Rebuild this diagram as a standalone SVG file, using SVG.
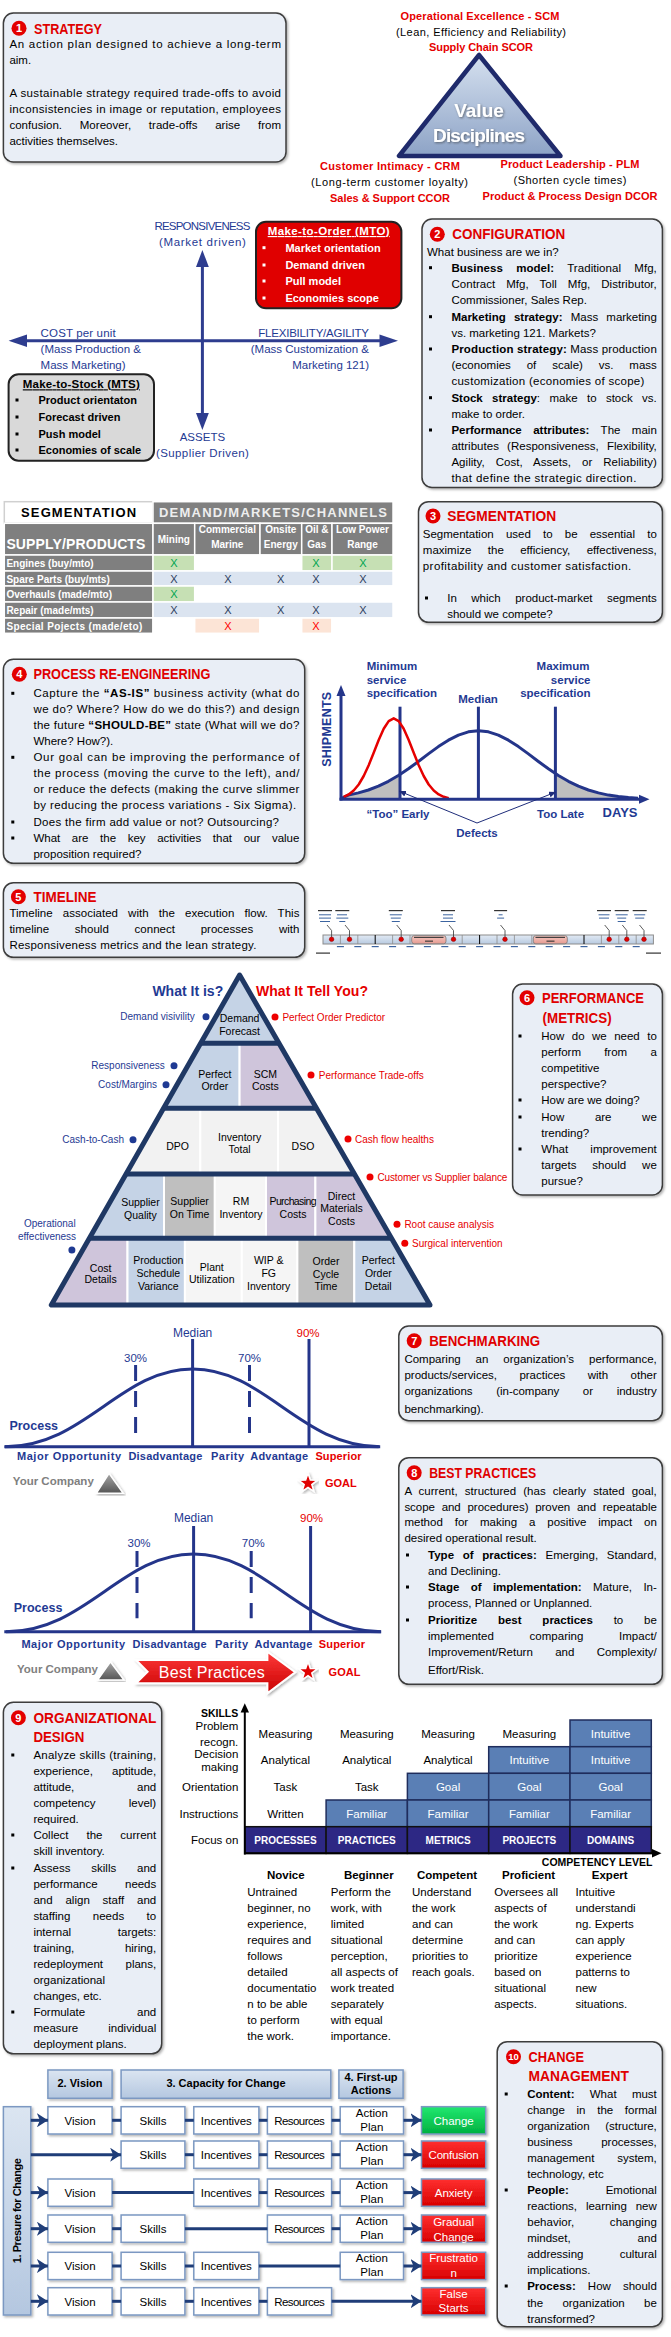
<svg xmlns="http://www.w3.org/2000/svg" width="671" height="2337" viewBox="0 0 671 2337">
<defs>
<style>
text{font-family:'Liberation Sans',Arial,sans-serif;font-size:11.5px;fill:#000}
.ti{font-size:14.5px;font-weight:bold;fill:#e00000}
.n{font-size:11px;font-weight:bold;fill:#fff;text-anchor:middle}
.c{text-anchor:middle}
.e{text-anchor:end}
.bd{font-weight:bold}
.rd{fill:#e60000}
.nv{fill:#1f3a93}
.wh{fill:#fff}
.gy{fill:#808080}
.lg{fill:#eeeeee}
.s10{font-size:10px}
.s105{font-size:10.5px}
.s11{font-size:11px}
.s12{font-size:12px}
.s125{font-size:12.5px}
.s13{font-size:13px}
.s14{font-size:14px}
.s16{font-size:16px}
.s19{font-size:19px}
.box{fill:#e9eef6;stroke:#3c3c3c;stroke-width:1.5}
.cr{fill:#e30000}
.sq{fill:#000}
.ax{stroke:#2e3d8f;stroke-width:3;fill:none}
.axf{fill:#2e3d8f}
.cv{stroke:#24358a;stroke-width:3;fill:none}
.fb{fill:#fff;stroke:#7b98c2;stroke-width:1.5}
.hb{fill:url(#hb);stroke:#7b98c2;stroke-width:1.5}
.rb{fill:url(#rg);stroke:#7b98c2;stroke-width:1.5}
.fl{stroke:#1f3d78;stroke-width:3;fill:none}
.gb{fill:#5a7fb5;stroke:#1f2d5c;stroke-width:1.5}
.gn{fill:#2d2884;stroke:#111;stroke-width:1.5}
.tl{fill:#3c64a0}
.td{fill:#333}
</style>
<filter id="sh" x="-5%" y="-5%" width="112%" height="115%"><feDropShadow dx="1.5" dy="1.5" stdDeviation="1" flood-color="#000" flood-opacity="0.3"/></filter>
<filter id="tsh" x="-10%" y="-20%" width="120%" height="150%"><feDropShadow dx="1" dy="1" stdDeviation="0.8" flood-color="#333" flood-opacity="0.6"/></filter>
<linearGradient id="vd" x1="0" y1="0" x2="0" y2="1"><stop offset="0" stop-color="#d5e0ef"/><stop offset="1" stop-color="#8da3c6"/></linearGradient>
<linearGradient id="hb" x1="0" y1="0" x2="0" y2="1"><stop offset="0" stop-color="#dbe5f1"/><stop offset="1" stop-color="#b4c7e0"/></linearGradient>
<linearGradient id="rg" x1="0" y1="0" x2="0" y2="1"><stop offset="0" stop-color="#ff3030"/><stop offset="1" stop-color="#d80000"/></linearGradient>
<linearGradient id="gg" x1="0" y1="0" x2="0" y2="1"><stop offset="0" stop-color="#20e870"/><stop offset="1" stop-color="#00b040"/></linearGradient>
<linearGradient id="ar" x1="0" y1="0" x2="0" y2="1"><stop offset="0" stop-color="#ff3b3b"/><stop offset="1" stop-color="#c80000"/></linearGradient>
<linearGradient id="gt" x1="0" y1="0" x2="0" y2="1"><stop offset="0" stop-color="#a8a8a8"/><stop offset="1" stop-color="#555"/></linearGradient>
<linearGradient id="tb" x1="0" y1="0" x2="0" y2="1"><stop offset="0" stop-color="#e2eaf4"/><stop offset="1" stop-color="#b8cae0"/></linearGradient>
<linearGradient id="pk" x1="0" y1="0" x2="0" y2="1"><stop offset="0" stop-color="#f7c9c2"/><stop offset="1" stop-color="#e59a90"/></linearGradient>
<clipPath id="pyr"><polygon points="239.6,975 51.3,1305 430,1305"/></clipPath>
<path id="star" d="M0,-10 L2.35,-3.24 L9.51,-3.09 L3.8,1.24 L5.88,8.09 L0,4 L-5.88,8.09 L-3.8,1.24 L-9.51,-3.09 L-2.35,-3.24 Z" fill="#e00000" stroke="#fff" stroke-width="1.5"/>
<marker id="fa" markerUnits="userSpaceOnUse" markerWidth="11" markerHeight="14" refX="11" refY="7" orient="auto"><path d="M0,0 L11,7 L0,14 L3,7 Z" fill="#1f3d78"/></marker>
<marker id="sa" markerUnits="userSpaceOnUse" markerWidth="7" markerHeight="6" refX="7" refY="3" orient="auto"><path d="M0,0 L7,3 L0,6 Z" fill="#1f2d7a"/></marker>
</defs>
<rect width="671" height="2337" fill="#fff"/>

<!-- 1 STRATEGY -->
<g id="strategy">
<rect class="box" x="3.4" y="13" width="282.6" height="149" rx="10" filter="url(#sh)"/>
<circle class="cr" cx="19" cy="28.3" r="7.5"/><text class="n" x="19" y="32.3">1</text>
<text class="ti" x="34" y="33.5" textLength="68" lengthAdjust="spacingAndGlyphs">STRATEGY</text>
<text x="9.4" y="48" textLength="271.6">An action plan designed to achieve a long-term</text>
<text x="9.4" y="64">aim.</text>
<text x="9.4" y="97" textLength="271.6">A sustainable strategy required trade-offs to avoid</text>
<text x="9.4" y="113" textLength="271.6">inconsistencies in image or reputation, employees</text>
<text x="9.4" y="129" textLength="271.6" word-spacing="14.5">confusion. Moreover, trade-offs arise from</text>
<text x="9.4" y="145">activities themselves.</text>
</g>

<g id="value-disciplines">
<polygon points="479,55 399,156 560.5,156" fill="url(#vd)" stroke="#1f2a6b" stroke-width="4.5" stroke-linejoin="round"/>
<text class="c bd wh s19" x="479" y="117" filter="url(#tsh)">Value</text>
<text class="c bd wh s19" x="479" y="142" textLength="92" filter="url(#tsh)">Disciplines</text>
<text class="c bd rd s11" x="480" y="20" textLength="159">Operational Excellence - SCM</text>
<text class="c s11" x="481" y="36" textLength="170">(Lean, Efficiency and Reliability)</text>
<text class="c bd rd s11" x="481" y="51" textLength="104">Supply Chain SCOR</text>
<text class="c bd rd s11" x="390" y="170" textLength="140">Customer Intimacy - CRM</text>
<text class="c s11" x="389.5" y="186" textLength="157">(Long-term customer loyalty)</text>
<text class="c bd rd s11" x="390" y="202" textLength="120">Sales &amp; Support CCOR</text>
<text class="c bd rd s11" x="570" y="168" textLength="139">Product Leadership - PLM</text>
<text class="c s11" x="570" y="184" textLength="113">(Shorten cycle times)</text>
<text class="c bd rd s11" x="570" y="200" textLength="175">Product &amp; Process Design DCOR</text>
</g>

<!-- 2 axes -->
<g id="attribute-axes">
<line class="ax" x1="202.4" y1="262" x2="202.4" y2="418"/>
<polygon class="axf" points="202.4,250 196,267 208.8,267"/>
<polygon class="axf" points="202.4,430 196,413 208.8,413"/>
<line class="ax" x1="22" y1="340.7" x2="385" y2="340.7"/>
<polygon class="axf" points="8.6,340.7 27,334.5 27,347"/>
<polygon class="axf" points="398,340.7 379.5,334.5 379.5,347"/>
<text class="c nv" x="202.4" y="230" textLength="96">RESPONSIVENESS</text>
<text class="c nv" x="202.4" y="245.7" textLength="87">(Market driven)</text>
<text class="nv" x="40.6" y="336.7" textLength="75">COST per unit</text>
<text class="nv" x="40.6" y="352.7">(Mass Production &amp;</text>
<text class="nv" x="40.6" y="368.7">Mass Marketing)</text>
<text class="e nv" x="369" y="336.7" textLength="110.8">FLEXIBILITY/AGILITY</text>
<text class="e nv" x="369" y="352.7">(Mass Customization &amp;</text>
<text class="e nv" x="369" y="368.7">Marketing 121)</text>
<text class="c nv" x="202.4" y="441">ASSETS</text>
<text class="c nv" x="202.4" y="456.7" textLength="93">(Supplier Driven)</text>
</g>

<g id="mto">
<rect x="256" y="221.7" width="145.4" height="86.6" rx="10" fill="#e00000" stroke="#222" stroke-width="2"/>
<text class="c bd wh" x="328.7" y="235" text-decoration="underline" textLength="122">Make-to-Order (MTO)</text>
<rect class="wh" x="262.5" y="246.2" width="3" height="3"/><text class="bd wh s11" x="285.4" y="251.7">Market orientation</text>
<rect class="wh" x="262.5" y="263.5" width="3" height="3"/><text class="bd wh s11" x="285.4" y="269">Demand driven</text>
<rect class="wh" x="262.5" y="279.5" width="3" height="3"/><text class="bd wh s11" x="285.4" y="285">Pull model</text>
<rect class="wh" x="262.5" y="296.5" width="3" height="3"/><text class="bd wh s11" x="285.4" y="302">Economies scope</text>
</g>

<g id="mts">
<rect x="8.6" y="374.3" width="145.4" height="86.4" rx="10" fill="#d9d9d9" stroke="#222" stroke-width="2"/>
<text class="c bd" x="81.3" y="388.3" text-decoration="underline" textLength="117">Make-to-Stock (MTS)</text>
<rect class="sq" x="15.5" y="398.5" width="3" height="3"/><text class="bd s11" x="38.5" y="404">Product orientaton</text>
<rect class="sq" x="15.5" y="415.5" width="3" height="3"/><text class="bd s11" x="38.5" y="421">Forecast driven</text>
<rect class="sq" x="15.5" y="432.5" width="3" height="3"/><text class="bd s11" x="38.5" y="438">Push model</text>
<rect class="sq" x="15.5" y="448.5" width="3" height="3"/><text class="bd s11" x="38.5" y="454">Economies of scale</text>
</g>

<g id="configuration">
<rect class="box" x="422" y="219" width="240.4" height="268.5" rx="10" filter="url(#sh)"/>
<circle class="cr" cx="437.3" cy="234.3" r="7.5"/><text class="n" x="437.3" y="238.3">2</text>
<text class="ti" x="452.3" y="239" textLength="113" lengthAdjust="spacingAndGlyphs">CONFIGURATION</text>
<text x="427" y="255.7">What business are we in?</text>
<rect class="sq" x="429" y="266.2" width="3" height="3"/>
<text x="451.4" y="271.7" textLength="205.4" word-spacing="10"><tspan class="bd">Business model:</tspan> Traditional Mfg,</text>
<text x="451.4" y="287.7" textLength="205.4" word-spacing="7.6">Contract Mfg, Toll Mfg, Distributor,</text>
<text x="451.4" y="303.7">Commissioner, Sales Rep.</text>
<rect class="sq" x="429" y="315.2" width="3" height="3"/>
<text x="451.4" y="320.7" textLength="205.4" word-spacing="5"><tspan class="bd">Marketing strategy:</tspan> Mass marketing</text>
<text x="451.4" y="336.7">vs. marketing 121. Markets?</text>
<rect class="sq" x="429" y="347.5" width="3" height="3"/>
<text x="451.4" y="353" textLength="205.4"><tspan class="bd">Production strategy:</tspan> Mass production</text>
<text x="451.4" y="369" textLength="205.4" word-spacing="12.7">(economies of scale) vs. mass</text>
<text x="451.4" y="385" textLength="193">customization (economies of scope)</text>
<rect class="sq" x="429" y="396.2" width="3" height="3"/>
<text x="451.4" y="401.7" textLength="205.4" word-spacing="6.2"><tspan class="bd">Stock strategy</tspan>: make to stock vs.</text>
<text x="451.4" y="418">make to order.</text>
<rect class="sq" x="429" y="428.5" width="3" height="3"/>
<text x="451.4" y="434" textLength="205.4" word-spacing="8.2"><tspan class="bd">Performance attributes:</tspan> The main</text>
<text x="451.4" y="450" textLength="205.4" word-spacing="4.9">attributes (Responsiveness, Flexibility,</text>
<text x="451.4" y="466" textLength="205.4" word-spacing="7.7">Agility, Cost, Assets, or Reliability)</text>
<text x="451.4" y="482" textLength="185">that define the strategic direction.</text>
</g>

<!-- 3 segmentation table -->
<g id="segmentation-table" stroke="#fff" stroke-width="1.5">
<rect x="4.3" y="501.7" width="148.7" height="21.6" fill="#fff" stroke="#d0d0d0"/>
<rect x="153" y="501.7" width="240" height="21.6" fill="#808080"/>
<rect x="4.3" y="523.3" width="148.7" height="31.7" fill="#7f7f7f"/>
<rect x="153" y="523.3" width="41.7" height="31.7" fill="#7f7f7f"/>
<rect x="194.7" y="523.3" width="65.3" height="31.7" fill="#7f7f7f"/>
<rect x="260" y="523.3" width="41.7" height="31.7" fill="#7f7f7f"/>
<rect x="301.7" y="523.3" width="30.3" height="31.7" fill="#7f7f7f"/>
<rect x="332" y="523.3" width="61" height="31.7" fill="#7f7f7f"/>
<rect x="4.3" y="555" width="148.7" height="16" fill="#7f7f7f"/>
<rect x="4.3" y="571" width="148.7" height="15" fill="#7f7f7f"/>
<rect x="4.3" y="586" width="148.7" height="16" fill="#7f7f7f"/>
<rect x="4.3" y="602" width="148.7" height="16" fill="#7f7f7f"/>
<rect x="4.3" y="618" width="148.7" height="15.3" fill="#7f7f7f"/>
<rect x="153" y="555" width="41.7" height="16" fill="#c6e0b4"/>
<rect x="194.7" y="555" width="65.3" height="16" fill="#fff"/>
<rect x="260" y="555" width="41.7" height="16" fill="#fff"/>
<rect x="301.7" y="555" width="30.3" height="16" fill="#c6e0b4"/>
<rect x="332" y="555" width="61" height="16" fill="#c6e0b4"/>
<rect x="153" y="571" width="240" height="15" fill="#dbe4f0"/>
<rect x="153" y="586" width="41.7" height="16" fill="#c6e0b4"/>
<rect x="194.7" y="586" width="198.3" height="16" fill="#fff"/>
<rect x="153" y="602" width="240" height="16" fill="#dbe4f0"/>
<rect x="153" y="618" width="41.7" height="15.3" fill="#fff"/>
<rect x="194.7" y="618" width="65.3" height="15.3" fill="#fce4d6"/>
<rect x="260" y="618" width="41.7" height="15.3" fill="#fff"/>
<rect x="301.7" y="618" width="30.3" height="15.3" fill="#fce4d6"/>
<rect x="332" y="618" width="61" height="15.3" fill="#fff"/>
<g stroke="none">
<text class="c bd s13" x="78.6" y="517.3" textLength="115">SEGMENTATION</text>
<text class="c bd s13 lg" x="273" y="517.3" textLength="228">DEMAND/MARKETS/CHANNELS</text>
<text class="bd s14 wh" x="6.4" y="549" textLength="139">SUPPLY/PRODUCTS</text>
<text class="c bd s10 wh" x="173.8" y="542.7">Mining</text>
<text class="c bd s10 wh" x="227.3" y="532.7">Commercial</text>
<text class="c bd s10 wh" x="227.3" y="548.3">Marine</text>
<text class="c bd s10 wh" x="280.8" y="532.7">Onsite</text>
<text class="c bd s10 wh" x="280.8" y="548.3">Energy</text>
<text class="c bd s10 wh" x="316.8" y="532.7">Oil &amp;</text>
<text class="c bd s10 wh" x="316.8" y="548.3">Gas</text>
<text class="c bd s10 wh" x="362.5" y="532.7">Low Power</text>
<text class="c bd s10 wh" x="362.5" y="548.3">Range</text>
<text class="bd s10 wh" x="6.4" y="567">Engines (buy/mto)</text>
<text class="bd s10 wh" x="6.4" y="582.5">Spare Parts (buy/mts)</text>
<text class="bd s10 wh" x="6.4" y="598">Overhauls (made/mto)</text>
<text class="bd s10 wh" x="6.4" y="614">Repair (made/mts)</text>
<text class="bd s10 wh" x="6.4" y="629.5" textLength="136">Special Pojects (made/eto)</text>
<text class="c s11" x="174" y="567" style="fill:#00a550">X</text>
<text class="c s11" x="315.8" y="567" style="fill:#00a550">X</text>
<text class="c s11" x="362.9" y="567" style="fill:#00a550">X</text>
<text class="c s11" x="174" y="582.5" style="fill:#2f3f5f">X</text>
<text class="c s11" x="228" y="582.5" style="fill:#2f3f5f">X</text>
<text class="c s11" x="280.7" y="582.5" style="fill:#2f3f5f">X</text>
<text class="c s11" x="315.8" y="582.5" style="fill:#2f3f5f">X</text>
<text class="c s11" x="362.9" y="582.5" style="fill:#2f3f5f">X</text>
<text class="c s11" x="174" y="598" style="fill:#00a550">X</text>
<text class="c s11" x="174" y="614" style="fill:#2f3f5f">X</text>
<text class="c s11" x="228" y="614" style="fill:#2f3f5f">X</text>
<text class="c s11" x="280.7" y="614" style="fill:#2f3f5f">X</text>
<text class="c s11" x="315.8" y="614" style="fill:#2f3f5f">X</text>
<text class="c s11" x="362.9" y="614" style="fill:#2f3f5f">X</text>
<text class="c s11" x="228" y="629.5" style="fill:#ff0000">X</text>
<text class="c s11" x="315.8" y="629.5" style="fill:#ff0000">X</text>
</g>
</g>

<g id="segmentation">
<rect class="box" x="418.5" y="501.7" width="243.9" height="120.6" rx="10" filter="url(#sh)"/>
<circle class="cr" cx="433" cy="516" r="7.5"/><text class="n" x="433" y="520">3</text>
<text class="ti" x="447.2" y="520.7" textLength="109" lengthAdjust="spacingAndGlyphs">SEGMENTATION</text>
<text x="422.8" y="538" textLength="234" word-spacing="9">Segmentation used to be essential to</text>
<text x="422.8" y="554" textLength="234" word-spacing="13.2">maximize the efficiency, effectiveness,</text>
<text x="422.8" y="570" textLength="208.4">profitability and customer satisfaction.</text>
<rect class="sq" x="425" y="596.5" width="3" height="3"/>
<text x="447.2" y="602" textLength="209.6" word-spacing="11.3">In which product-market segments</text>
<text x="447.2" y="618">should we compete?</text>
</g>

<!-- 4 PROCESS RE-ENGINEERING -->
<g id="process-reengineering">
<rect class="box" x="3.4" y="659.3" width="301.3" height="204" rx="10" filter="url(#sh)"/>
<circle class="cr" cx="19.3" cy="674.3" r="7.5"/><text class="n" x="19.3" y="678.3">4</text>
<text class="ti" x="33.4" y="679.3" textLength="177" lengthAdjust="spacingAndGlyphs">PROCESS RE-ENGINEERING</text>
<rect class="sq" x="11.3" y="691.8" width="3" height="3"/>
<text x="33.4" y="697.3" textLength="266">Capture the <tspan class="bd">“AS-IS”</tspan> business activity (what do</text>
<text x="33.4" y="713.3" textLength="266">we do? Where? How do we do this?) and design</text>
<text x="33.4" y="729.3" textLength="266">the future <tspan class="bd">“SHOULD-BE”</tspan> state (What will we do?</text>
<text x="33.4" y="745.3">Where? How?).</text>
<rect class="sq" x="11.3" y="755.8" width="3" height="3"/>
<text x="33.4" y="761.3" textLength="266">Our goal can be improving the performance of</text>
<text x="33.4" y="777.3" textLength="266">the process (moving the curve to the left), and/</text>
<text x="33.4" y="793.3" textLength="266">or reduce the defects (making the curve slimmer</text>
<text x="33.4" y="809.3" textLength="262.7">by reducing the process variations - Six Sigma).</text>
<rect class="sq" x="11.3" y="820.5" width="3" height="3"/>
<text x="33.4" y="826" textLength="245.6">Does the firm add value or not? Outsourcing?</text>
<rect class="sq" x="11.3" y="836.5" width="3" height="3"/>
<text x="33.4" y="842" textLength="266" word-spacing="8.4">What are the key activities that our value</text>
<text x="33.4" y="858">proposition required?</text>
</g>

<g id="shipments-chart">
<polygon fill="#bfbfbf" points="341,799.3 341,798.5 348.4,795.1 358.4,792.9 368.4,790 378.4,786.2 388.4,781.3 398.4,775.5 400,774.5 400,799.3"/>
<polygon fill="#bfbfbf" points="555.4,799.3 555.4,773.6 558.4,775.5 568.4,781.3 578.4,786.2 588.4,790 598.4,792.9 608.4,795.1 618.4,796.6 628.4,797.6 638,798.3 638,799.3"/>
<line x1="400" y1="706.7" x2="400" y2="799" stroke="#24358a" stroke-width="3"/>
<line x1="478.4" y1="706.7" x2="478.4" y2="799" stroke="#24358a" stroke-width="3"/>
<line x1="555.4" y1="706.7" x2="555.4" y2="799" stroke="#24358a" stroke-width="3"/>
<polyline class="cv" stroke-linejoin="round" points="341,798.5 348.4,795.1 358.4,792.9 368.4,790 378.4,786.2 388.4,781.3 398.4,775.5 408.4,768.8 418.4,761.5 428.4,753.9 438.4,746.6 448.4,740.2 458.4,735.1 468.4,731.8 478.4,730.7 488.4,731.8 498.4,735.1 508.4,740.2 518.4,746.6 528.4,753.9 538.4,761.5 548.4,768.8 558.4,775.5 568.4,781.3 578.4,786.2 588.4,790 598.4,792.9 608.4,795.1 618.4,796.6 628.4,797.6 638,798.3"/>
<polyline fill="none" stroke="#e60000" stroke-width="2.5" stroke-linejoin="round" points="343.7,796.8 348.7,794.4 353.7,790.5 358.7,784.5 363.7,776 368.7,765.2 373.7,752.8 378.7,740 383.7,728.8 388.7,721.1 393.7,718.3 398.7,721.1 403.7,728.8 408.7,740 413.7,752.8 418.7,765.2 423.7,776 428.7,784.5 433.7,790.5 438.7,794.4 443.7,796.8 448.7,798.1"/>
<line x1="341" y1="800.5" x2="341" y2="692" stroke="#24358a" stroke-width="3"/>
<polygon fill="#24358a" points="341,685 336.5,696 345.5,696"/>
<line x1="339.5" y1="799.3" x2="640" y2="799.3" stroke="#24358a" stroke-width="3"/>
<polygon fill="#24358a" points="649.5,799.3 639,794.8 639,803.8"/>
<text class="c bd nv s125" transform="translate(331,729.3) rotate(-90)" textLength="75">SHIPMENTS</text>
<text class="bd nv s13" x="602.5" y="816.7" textLength="35">DAYS</text>
<text class="bd nv" x="366.7" y="670">Minimum</text>
<text class="bd nv" x="366.7" y="684.3">service</text>
<text class="bd nv" x="366.7" y="696.7">specification</text>
<text class="e bd nv" x="589.6" y="670">Maximum</text>
<text class="e bd nv" x="590.5" y="684.3">service</text>
<text class="e bd nv" x="590.5" y="696.7">specification</text>
<text class="c bd nv" x="478" y="703.3">Median</text>
<text class="c bd nv" x="398" y="818.3">“Too” Early</text>
<text class="c bd nv" x="560.5" y="818.3">Too Late</text>
<text class="c bd nv" x="477" y="836.7">Defects</text>
</g>

<!-- 5 TIMELINE -->
<g id="timeline">
<rect class="box" x="3.4" y="882.7" width="301.3" height="74.6" rx="10" filter="url(#sh)"/>
<circle class="cr" cx="18.4" cy="896.7" r="7.5"/><text class="n" x="18.4" y="900.7">5</text>
<text class="ti" x="33.4" y="901.7" textLength="63" lengthAdjust="spacingAndGlyphs">TIMELINE</text>
<text x="9.4" y="917.3" textLength="290" word-spacing="6.9">Timeline associated with the execution flow. This</text>
<text x="9.4" y="933.3" textLength="290" word-spacing="22.6">timeline should connect processes with</text>
<text x="9.4" y="949.3" textLength="247">Responsiveness metrics and the lean strategy.</text>
</g>

<g id="timeline-graphic">
<rect x="323" y="935" width="330.4" height="9" fill="url(#tb)" stroke="#8c8c8c" stroke-width="1"/>
<g stroke="#8c8c8c" stroke-width="0.8">
<line x1="340.4" y1="935" x2="340.4" y2="944"/><line x1="357.8" y1="935" x2="357.8" y2="944"/>
<line x1="392.6" y1="935" x2="392.6" y2="944"/><line x1="410" y1="935" x2="410" y2="944"/>
<line x1="462.2" y1="935" x2="462.2" y2="944"/><line x1="497" y1="935" x2="497" y2="944"/>
<line x1="514.4" y1="935" x2="514.4" y2="944"/><line x1="531.8" y1="935" x2="531.8" y2="944"/>
<line x1="601.4" y1="935" x2="601.4" y2="944"/><line x1="618.8" y1="935" x2="618.8" y2="944"/>
<line x1="636.2" y1="935" x2="636.2" y2="944"/>
</g>
<g stroke="#000" stroke-width="1">
<line x1="375.2" y1="935" x2="375.2" y2="944"/><line x1="479.6" y1="935" x2="479.6" y2="944"/><line x1="584" y1="935" x2="584" y2="944"/>
</g>
<rect x="411.7" y="935.6" width="34.3" height="8.2" rx="2.5" fill="url(#pk)" stroke="#777" stroke-width="0.8"/>
<rect x="533.3" y="935.6" width="34" height="8.2" rx="2.5" fill="url(#pk)" stroke="#777" stroke-width="0.8"/>
<rect class="td" x="414" y="936.8" width="29.5" height="1.1"/><rect class="td" x="425" y="940.6" width="8" height="1.1"/>
<rect class="td" x="535.5" y="936.8" width="29.5" height="1.1"/><rect class="td" x="546.5" y="940.6" width="8" height="1.1"/>
<g fill="none" stroke="#333" stroke-width="0.8">
<polyline points="327,925 331.6,930.5 331.6,937"/>
<polyline points="345,925 349.5,930.5 349.5,937"/>
<polyline points="396.7,925 401.2,930.5 401.2,937"/>
<polyline points="449,925 453.5,930.5 453.5,937"/>
<polyline points="500.5,925 505,930.5 505,937"/>
<polyline points="604.7,925 609.2,930.5 609.2,937"/>
<polyline points="622.3,925 626.8,930.5 626.8,937"/>
<polyline points="639.5,925 644,930.5 644,937"/>
</g>
<g fill="#e00000" stroke="#800" stroke-width="0.5">
<circle cx="331.6" cy="939.3" r="2.3"/><circle cx="349.5" cy="939.3" r="2.3"/><circle cx="401.2" cy="939.3" r="2.3"/><circle cx="453.5" cy="939.3" r="2.3"/>
<circle cx="505" cy="939.3" r="2.3"/><circle cx="609.2" cy="939.3" r="2.3"/><circle cx="626.8" cy="939.3" r="2.3"/><circle cx="644" cy="939.3" r="2.3"/>
</g>
<g>
<rect class="td" x="318" y="910" width="14" height="1.2"/><rect class="tl" x="319" y="914.3" width="12" height="1"/><rect class="tl" x="319" y="917.6" width="12" height="1"/><rect class="tl" x="320" y="921" width="10" height="1"/>
<rect class="td" x="335.3" y="910" width="14" height="1.2"/><rect class="tl" x="337" y="914.3" width="10" height="1"/><rect class="tl" x="336.3" y="917.6" width="12" height="1"/><rect class="tl" x="339.3" y="921" width="6" height="1"/>
<rect class="td" x="388.8" y="910" width="14" height="1.2"/><rect class="tl" x="389.8" y="914.3" width="12" height="1"/><rect class="tl" x="390.8" y="917.6" width="10" height="1"/><rect class="tl" x="391.8" y="921" width="8" height="1"/>
<rect class="td" x="441" y="910" width="14" height="1.2"/><rect class="tl" x="443" y="914.3" width="10" height="1"/><rect class="tl" x="443" y="917.6" width="10" height="1"/><rect class="tl" x="440.5" y="921" width="15" height="1"/>
<rect class="td" x="494.1" y="910" width="13" height="1.2"/><rect class="tl" x="498.6" y="914.3" width="4" height="1"/><rect class="tl" x="497.1" y="917.6" width="7" height="1"/>
<rect class="td" x="597" y="910" width="14" height="1.2"/><rect class="tl" x="598.5" y="914.3" width="11" height="1"/><rect class="tl" x="599" y="917.6" width="10" height="1"/>
<rect class="td" x="614.7" y="910" width="14" height="1.2"/><rect class="tl" x="615.7" y="914.3" width="12" height="1"/><rect class="tl" x="617.2" y="917.6" width="9" height="1"/><rect class="tl" x="617.7" y="921" width="8" height="1"/>
<rect class="td" x="632.7" y="910" width="14" height="1.2"/><rect class="tl" x="634.2" y="914.3" width="11" height="1"/><rect class="tl" x="635.2" y="917.6" width="9" height="1"/>
</g>
<g class="tl">
<rect x="336.9" y="946" width="7" height="1.2"/><rect x="354.3" y="946" width="7" height="1.2"/><rect x="371.7" y="946" width="7" height="1.2"/><rect x="389.1" y="946" width="7" height="1.2"/><rect x="406.5" y="946" width="7" height="1.2"/><rect x="423.9" y="946" width="7" height="1.2"/><rect x="441.3" y="946" width="7" height="1.2"/><rect x="458.7" y="946" width="7" height="1.2"/><rect x="476.1" y="946" width="7" height="1.2"/>
<rect x="493.5" y="946" width="7" height="1.2"/><rect x="510.9" y="946" width="7" height="1.2"/><rect x="528.3" y="946" width="7" height="1.2"/><rect x="545.7" y="946" width="7" height="1.2"/><rect x="563.1" y="946" width="7" height="1.2"/><rect x="580.5" y="946" width="7" height="1.2"/><rect x="597.9" y="946" width="7" height="1.2"/><rect x="615.3" y="946" width="7" height="1.2"/><rect x="632.7" y="946" width="7" height="1.2"/>
</g>
<rect class="td" x="316" y="952.5" width="14" height="1.2"/><rect class="td" x="646" y="952.5" width="15" height="1.2"/>
</g>

<!-- 6 PERFORMANCE pyramid -->
<g id="pyramid">
<g clip-path="url(#pyr)" stroke="#fff" stroke-width="2">
<rect x="150" y="975" width="180" height="68.3" fill="#c5d3e6"/>
<rect x="150" y="1043.3" width="89.6" height="65" fill="#c5d3e6"/>
<rect x="239.6" y="1043.3" width="90" height="65" fill="#cfc5db"/>
<rect x="100" y="1108.3" width="100.3" height="65.7" fill="#f2f2f2"/>
<rect x="200.3" y="1108.3" width="77.7" height="65.7" fill="#f2f2f2"/>
<rect x="278" y="1108.3" width="102" height="65.7" fill="#f2f2f2"/>
<rect x="80" y="1174" width="84" height="64.3" fill="#c5d3e6"/>
<rect x="164" y="1174" width="50.8" height="64.3" fill="#bfbfbf"/>
<rect x="214.8" y="1174" width="51.2" height="64.3" fill="#f5f5f5"/>
<rect x="266" y="1174" width="49.4" height="64.3" fill="#cfc5db"/>
<rect x="315.4" y="1174" width="104.6" height="64.3" fill="#cfc5db"/>
<rect x="40" y="1238.3" width="87.5" height="66.7" fill="#cfc5db"/>
<rect x="127.5" y="1238.3" width="57.4" height="66.7" fill="#c5d3e6"/>
<rect x="184.9" y="1238.3" width="56.9" height="66.7" fill="#f5f5f5"/>
<rect x="241.8" y="1238.3" width="55.6" height="66.7" fill="#f5f5f5"/>
<rect x="297.4" y="1238.3" width="56.9" height="66.7" fill="#bfbfbf"/>
<rect x="354.3" y="1238.3" width="85.7" height="66.7" fill="#c5d3e6"/>
<g stroke="#1f3864" stroke-width="5">
<line x1="40" y1="1043.3" x2="440" y2="1043.3"/>
<line x1="40" y1="1108.3" x2="440" y2="1108.3"/>
<line x1="40" y1="1174" x2="440" y2="1174"/>
<line x1="40" y1="1238.3" x2="440" y2="1238.3"/>
</g>
</g>
<polygon points="239.6,975 51.3,1305 430,1305" fill="none" stroke="#1f3864" stroke-width="5" stroke-linejoin="round"/>
<text class="c s105" x="239.6" y="1021.7">Demand</text><text class="c s105" x="239.6" y="1035">Forecast</text>
<text class="c s105" x="214.8" y="1077.7">Perfect</text><text class="c s105" x="214.8" y="1090">Order</text>
<text class="c s105" x="265.3" y="1077.7">SCM</text><text class="c s105" x="265.3" y="1090">Costs</text>
<text class="c s105" x="177.6" y="1150">DPO</text>
<text class="c s105" x="239.6" y="1141">Inventory</text><text class="c s105" x="239.6" y="1152.7">Total</text>
<text class="c s105" x="303" y="1150">DSO</text>
<text class="c s105" x="140.4" y="1206">Supplier</text><text class="c s105" x="140.4" y="1219.3">Quality</text>
<text class="c s105" x="189.6" y="1205">Supplier</text><text class="c s105" x="189.6" y="1217.7">On Time</text>
<text class="c s105" x="241" y="1205">RM</text><text class="c s105" x="241" y="1217.7">Inventory</text>
<text class="c s105" x="293" y="1205" textLength="47">Purchasing</text><text class="c s105" x="293" y="1217.7">Costs</text>
<text class="c s105" x="341.5" y="1200">Direct</text><text class="c s105" x="341.5" y="1212.3">Materials</text><text class="c s105" x="341.5" y="1225">Costs</text>
<text class="c s105" x="100.6" y="1271.7">Cost</text><text class="c s105" x="100.6" y="1283.3">Details</text>
<text class="c s105" x="158.3" y="1264.3">Production</text><text class="c s105" x="158.3" y="1277.3">Schedule</text><text class="c s105" x="158.3" y="1290">Variance</text>
<text class="c s105" x="211.8" y="1270.7">Plant</text><text class="c s105" x="211.8" y="1283.3">Utilization</text>
<text class="c s105" x="268.7" y="1264.3">WIP &amp;</text><text class="c s105" x="268.7" y="1277.3">FG</text><text class="c s105" x="268.7" y="1290">Inventory</text>
<text class="c s105" x="326" y="1265">Order</text><text class="c s105" x="326" y="1278.3">Cycle</text><text class="c s105" x="326" y="1290">Time</text>
<text class="c s105" x="378.3" y="1264.3">Perfect</text><text class="c s105" x="378.3" y="1277.3">Order</text><text class="c s105" x="378.3" y="1290">Detail</text>
<text class="c bd nv s14" x="187.8" y="995.7">What It is?</text>
<text class="bd rd s14" x="256" y="995.7" textLength="112">What It Tell You?</text>
<g fill="#1f3a93">
<circle cx="206" cy="1016.7" r="3.5"/><circle cx="174" cy="1065.7" r="3.5"/><circle cx="166" cy="1084.7" r="3.5"/><circle cx="133" cy="1139.7" r="3.5"/><circle cx="71.9" cy="1250" r="3.5"/>
</g>
<text class="e nv s10" x="194.7" y="1020">Demand visivility</text>
<text class="e nv s10" x="164.7" y="1069.3">Responsiveness</text>
<text class="e nv s10" x="157" y="1088.3">Cost/Margins</text>
<text class="e nv s10" x="124" y="1143.3">Cash-to-Cash</text>
<text class="c nv s10" x="49.8" y="1227.3">Operational</text>
<text class="c nv s10" x="47" y="1240">effectiveness</text>
<g fill="#ee0000">
<circle cx="275" cy="1017" r="3.5"/><circle cx="311" cy="1075" r="3.5"/><circle cx="348" cy="1139" r="3.5"/><circle cx="370" cy="1177" r="3.5"/><circle cx="397" cy="1224.3" r="3.5"/><circle cx="404.8" cy="1243.3" r="3.5"/>
</g>
<text class="rd s10" x="282.4" y="1020.5">Perfect Order Predictor</text>
<text class="rd s10" x="318.8" y="1078.5">Performance Trade-offs</text>
<text class="rd s10" x="355" y="1142.5">Cash flow healths</text>
<text class="rd s10" x="377.4" y="1180.5" textLength="130">Customer vs Supplier balance</text>
<text class="rd s10" x="404.4" y="1228">Root cause analysis</text>
<text class="rd s10" x="412" y="1247">Surgical intervention</text>
</g>

<g id="performance">
<rect class="box" x="512.6" y="984" width="149.8" height="211" rx="10" filter="url(#sh)"/>
<circle class="cr" cx="527" cy="997.7" r="7.5"/><text class="n" x="527" y="1001.7">6</text>
<text class="ti" x="542" y="1003.3" textLength="102" lengthAdjust="spacingAndGlyphs">PERFORMANCE</text>
<text class="ti" x="542.6" y="1023.3" textLength="69" lengthAdjust="spacingAndGlyphs">(METRICS)</text>
<rect class="sq" x="518.5" y="1034.5" width="3" height="3"/>
<text x="541.3" y="1040" textLength="115.5" word-spacing="4.3">How do we need to</text>
<text x="541.3" y="1056" textLength="115.5" word-spacing="20">perform from a</text>
<text x="541.3" y="1072">competitive</text>
<text x="541.3" y="1088">perspective?</text>
<rect class="sq" x="518.5" y="1098.5" width="3" height="3"/>
<text x="541.3" y="1104">How are we doing?</text>
<rect class="sq" x="518.5" y="1115.5" width="3" height="3"/>
<text x="541.3" y="1121" textLength="115.5" word-spacing="27.4">How are we</text>
<text x="541.3" y="1137">trending?</text>
<rect class="sq" x="518.5" y="1147.5" width="3" height="3"/>
<text x="541.3" y="1153" textLength="115.5" word-spacing="19">What improvement</text>
<text x="541.3" y="1169" textLength="115.5" word-spacing="12.7">targets should we</text>
<text x="541.3" y="1185">pursue?</text>
</g>

<!-- 7 benchmarking curve -->
<g id="benchmark-curve">
<line x1="4.3" y1="1446.7" x2="378.7" y2="1446.7" class="cv"/>
<path class="cv" d="M5,1446.7 C85,1446.7 120,1369 192.6,1369 C265.2,1369 300.2,1446.7 380.2,1446.7"/>
<line x1="192.6" y1="1339" x2="192.6" y2="1446.7" class="cv"/>
<line x1="309" y1="1339" x2="309" y2="1446.7" class="cv"/>
<line x1="135.6" y1="1365" x2="135.6" y2="1433.3" class="cv" stroke-dasharray="16 10"/>
<line x1="249.5" y1="1365" x2="249.5" y2="1433.3" class="cv" stroke-dasharray="16 10"/>
<text class="c nv s12" x="192.6" y="1336.7">Median</text>
<text class="c rd" x="308" y="1336.7">90%</text>
<text class="c nv" x="135.6" y="1362.3">30%</text>
<text class="c nv" x="249.5" y="1362.3">70%</text>
<text class="bd nv s125" x="9.4" y="1430">Process</text>
<text class="bd nv s11" x="17" y="1460" textLength="104">Major Opportunity</text>
<text class="bd nv s11" x="128.4" y="1460" textLength="74">Disadvantage</text>
<text class="bd nv s11" x="211" y="1460" textLength="33">Parity</text>
<text class="bd nv s11" x="250.3" y="1460" textLength="57.7">Advantage</text>
<text class="bd rd s11" x="315.4" y="1460" textLength="46.2">Superior</text>
<text class="bd gy" x="12.8" y="1485" textLength="81">Your Company</text>
<polygon points="109,1473.3 96.3,1493.3 123.2,1493.3" fill="url(#gt)" stroke="#fff" stroke-width="1.5" filter="url(#sh)"/>
<use href="#star" x="308" y="1483.3" filter="url(#sh)"/>
<text class="bd rd s11" x="325" y="1486.7">GOAL</text>
</g>

<g id="benchmarking">
<rect class="box" x="398.8" y="1326" width="263.6" height="94.7" rx="10" filter="url(#sh)"/>
<circle class="cr" cx="414.2" cy="1340.7" r="7.5"/><text class="n" x="414.2" y="1344.7">7</text>
<text class="ti" x="429.2" y="1346" textLength="111" lengthAdjust="spacingAndGlyphs">BENCHMARKING</text>
<text x="404.4" y="1363" textLength="252.4" word-spacing="11.7">Comparing an organization’s performance,</text>
<text x="404.4" y="1379" textLength="252.4" word-spacing="19.2">products/services, practices with other</text>
<text x="404.4" y="1395" textLength="252.4" word-spacing="20.4">organizations (in-company or industry</text>
<text x="404.4" y="1413">benchmarking).</text>
</g>

<!-- 8 best practices curve -->
<g id="best-practices-curve">
<g transform="translate(1,185)">
<line x1="3.3" y1="1446.7" x2="379.8" y2="1446.7" class="cv"/>
<path class="cv" d="M5,1446.7 C85,1446.7 120,1369 192.6,1369 C265.2,1369 300.2,1446.7 380.2,1446.7"/>
<line x1="192.6" y1="1341" x2="192.6" y2="1446.7" class="cv"/>
<line x1="309.6" y1="1341" x2="309.6" y2="1446.7" class="cv"/>
<line x1="136" y1="1366" x2="136" y2="1433.3" class="cv" stroke-dasharray="16 10"/>
<line x1="250.2" y1="1366" x2="250.2" y2="1433.3" class="cv" stroke-dasharray="16 10"/>
<text class="c nv s12" x="192.6" y="1336.7">Median</text>
<text class="c rd" x="310.5" y="1336.7">90%</text>
<text class="c nv" x="138" y="1362.3">30%</text>
<text class="c nv" x="252.3" y="1362.3">70%</text>
</g>
<text class="bd nv s125" x="13.7" y="1612">Process</text>
<text class="bd nv s11" x="21.4" y="1648.3" textLength="103.6">Major Opportunity</text>
<text class="bd nv s11" x="132.6" y="1648.3" textLength="74">Disadvantage</text>
<text class="bd nv s11" x="215" y="1648.3" textLength="33">Parity</text>
<text class="bd nv s11" x="254.6" y="1648.3" textLength="57.8">Advantage</text>
<text class="bd rd s11" x="318.8" y="1648.3" textLength="46.2">Superior</text>
<text class="bd gy" x="17" y="1673.3" textLength="81">Your Company</text>
<polygon points="110.4,1661.7 97.6,1680 124,1680" fill="url(#gt)" stroke="#fff" stroke-width="1.5" filter="url(#sh)"/>
<polygon points="136,1660 267.4,1660 267.4,1651.7 295.2,1672.3 267.4,1693.3 267.4,1683.3 136,1683.3 147.6,1671.7" fill="url(#ar)" stroke="#fff" stroke-width="2" filter="url(#sh)"/>
<text class="c wh s16" x="211.8" y="1677.5" textLength="106">Best Practices</text>
<use href="#star" x="308" y="1671.7" filter="url(#sh)"/>
<text class="bd rd s11" x="328.6" y="1675.7">GOAL</text>
</g>

<g id="best-practices">
<rect class="box" x="398.8" y="1457.7" width="263.6" height="226.6" rx="10" filter="url(#sh)"/>
<circle class="cr" cx="414.2" cy="1472.7" r="7.5"/><text class="n" x="414.2" y="1476.7">8</text>
<text class="ti" x="429.2" y="1478.3" textLength="107" lengthAdjust="spacingAndGlyphs">BEST PRACTICES</text>
<text x="404.4" y="1495" textLength="252.4" word-spacing="3.9">A current, structured (has clearly stated goal,</text>
<text x="404.4" y="1511" textLength="252.4" word-spacing="3.6">scope and procedures) proven and repeatable</text>
<text x="404.4" y="1526" textLength="252.4" word-spacing="8.7">method for making a positive impact on</text>
<text x="404.4" y="1542">desired operational result.</text>
<rect class="sq" x="406" y="1553.5" width="3" height="3"/>
<text x="428" y="1559" textLength="228.8" word-spacing="5.4"><tspan class="bd">Type of practices:</tspan> Emerging, Standard,</text>
<text x="428" y="1575">and Declining.</text>
<rect class="sq" x="406" y="1585.5" width="3" height="3"/>
<text x="428" y="1591" textLength="228.8" word-spacing="8.2"><tspan class="bd">Stage of implementation:</tspan> Mature, In-</text>
<text x="428" y="1607">process, Planned or Unplanned.</text>
<rect class="sq" x="406" y="1618.5" width="3" height="3"/>
<text x="428" y="1624" textLength="228.8" word-spacing="17.6"><tspan class="bd">Prioritize best practices</tspan> to be</text>
<text x="428" y="1640" textLength="228.8" word-spacing="32.6">implemented comparing Impact/</text>
<text x="428" y="1656" textLength="228.8" word-spacing="19.2">Improvement/Return and Complexity/</text>
<text x="428" y="1674">Effort/Risk.</text>
</g>

<!-- 9 ORGANIZATIONAL DESIGN -->
<g id="organizational-design">
<rect class="box" x="3.4" y="1702.3" width="158.3" height="351.5" rx="10" filter="url(#sh)"/>
<circle class="cr" cx="18.4" cy="1717.7" r="7.5"/><text class="n" x="18.4" y="1721.7">9</text>
<text class="ti" x="33.4" y="1723.3" textLength="123" lengthAdjust="spacingAndGlyphs">ORGANIZATIONAL</text>
<text class="ti" x="33.4" y="1741.7" textLength="51" lengthAdjust="spacingAndGlyphs">DESIGN</text>
<rect class="sq" x="11.3" y="1753.5" width="3" height="3"/>
<text x="33.4" y="1759" textLength="122.8">Analyze skills (training,</text>
<text x="33.4" y="1775" textLength="122.8" word-spacing="16">experience, aptitude,</text>
<text x="33.4" y="1791" textLength="122.8" word-spacing="59.5">attitude, and</text>
<text x="33.4" y="1807" textLength="122.8" word-spacing="30.1">competency level)</text>
<text x="33.4" y="1823">required.</text>
<rect class="sq" x="11.3" y="1833.5" width="3" height="3"/>
<text x="33.4" y="1839" textLength="122.8" word-spacing="14.7">Collect the current</text>
<text x="33.4" y="1855">skill inventory.</text>
<rect class="sq" x="11.3" y="1866.5" width="3" height="3"/>
<text x="33.4" y="1872" textLength="122.8" word-spacing="17.6">Assess skills and</text>
<text x="33.4" y="1888" textLength="122.8" word-spacing="24.4">performance needs</text>
<text x="33.4" y="1904" textLength="122.8" word-spacing="9.6">and align staff and</text>
<text x="33.4" y="1920" textLength="122.8" word-spacing="19.2">staffing needs to</text>
<text x="33.4" y="1936" textLength="122.8" word-spacing="43.5">internal targets:</text>
<text x="33.4" y="1952" textLength="122.8" word-spacing="47.4">training, hiring,</text>
<text x="33.4" y="1968" textLength="122.8" word-spacing="19.3">redeployment plans,</text>
<text x="33.4" y="1984">organizational</text>
<text x="33.4" y="2000">changes, etc.</text>
<rect class="sq" x="11.3" y="2010.5" width="3" height="3"/>
<text x="33.4" y="2016" textLength="122.8" word-spacing="48.7">Formulate and</text>
<text x="33.4" y="2032" textLength="122.8" word-spacing="26.9">measure individual</text>
<text x="33.4" y="2048">deployment plans.</text>
</g>

<g id="competency-grid">
<rect class="gb" x="570" y="1720" width="81.3" height="26.7"/>
<rect class="gb" x="488.7" y="1746.7" width="81.3" height="26.7"/><rect class="gb" x="570" y="1746.7" width="81.3" height="26.7"/>
<rect class="gb" x="407.4" y="1773.3" width="81.3" height="26.7"/><rect class="gb" x="488.7" y="1773.3" width="81.3" height="26.7"/><rect class="gb" x="570" y="1773.3" width="81.3" height="26.7"/>
<rect class="gb" x="326.1" y="1800" width="81.3" height="26.7"/><rect class="gb" x="407.4" y="1800" width="81.3" height="26.7"/><rect class="gb" x="488.7" y="1800" width="81.3" height="26.7"/><rect class="gb" x="570" y="1800" width="81.3" height="26.7"/>
<rect class="gn" x="244.8" y="1826.7" width="81.3" height="26.7"/><rect class="gn" x="326.1" y="1826.7" width="81.3" height="26.7"/><rect class="gn" x="407.4" y="1826.7" width="81.3" height="26.7"/><rect class="gn" x="488.7" y="1826.7" width="81.3" height="26.7"/><rect class="gn" x="570" y="1826.7" width="81.3" height="26.7"/>
<line x1="244.8" y1="1854.5" x2="244.8" y2="1711" stroke="#000" stroke-width="2"/>
<polygon points="244.8,1703.3 240.6,1712.5 249,1712.5" fill="#000"/>
<line x1="244" y1="1853.3" x2="653" y2="1853.3" stroke="#000" stroke-width="2"/>
<polygon points="661.5,1853.3 652,1849 652,1857.6" fill="#000"/>
<text class="e bd s105" x="238.3" y="1716.7">SKILLS</text>
<text class="e" x="238.3" y="1729.5">Problem</text>
<text class="e" x="238.3" y="1745.5">recogn.</text>
<text class="e" x="238.3" y="1758.3">Decision</text>
<text class="e" x="238.3" y="1771.3">making</text>
<text class="e" x="238.3" y="1791">Orientation</text>
<text class="e" x="238.3" y="1818.3">Instructions</text>
<text class="e" x="238.3" y="1844.3">Focus on</text>
<text class="c" x="285.45" y="1737.5">Measuring</text><text class="c" x="366.75" y="1737.5">Measuring</text><text class="c" x="448.05" y="1737.5">Measuring</text><text class="c" x="529.35" y="1737.5">Measuring</text><text class="c wh" x="610.65" y="1737.5">Intuitive</text>
<text class="c" x="285.45" y="1764">Analytical</text><text class="c" x="366.75" y="1764">Analytical</text><text class="c" x="448.05" y="1764">Analytical</text><text class="c wh" x="529.35" y="1764">Intuitive</text><text class="c wh" x="610.65" y="1764">Intuitive</text>
<text class="c" x="285.45" y="1790.7">Task</text><text class="c" x="366.75" y="1790.7">Task</text><text class="c wh" x="448.05" y="1790.7">Goal</text><text class="c wh" x="529.35" y="1790.7">Goal</text><text class="c wh" x="610.65" y="1790.7">Goal</text>
<text class="c" x="285.45" y="1817.5">Written</text><text class="c wh" x="366.75" y="1817.5">Familiar</text><text class="c wh" x="448.05" y="1817.5">Familiar</text><text class="c wh" x="529.35" y="1817.5">Familiar</text><text class="c wh" x="610.65" y="1817.5">Familiar</text>
<text class="c bd wh s10" x="285.45" y="1844">PROCESSES</text><text class="c bd wh s10" x="366.75" y="1844">PRACTICES</text><text class="c bd wh s10" x="448.05" y="1844">METRICS</text><text class="c bd wh s10" x="529.35" y="1844">PROJECTS</text><text class="c bd wh s10" x="610.65" y="1844">DOMAINS</text>
<text class="e bd s105" x="652.5" y="1866">COMPETENCY LEVEL</text>
<text class="c bd" x="285.8" y="1879.3">Novice</text>
<text class="c bd" x="368.8" y="1879.3">Beginner</text>
<text class="c bd" x="447" y="1879.3">Competent</text>
<text class="c bd" x="528.5" y="1879.3">Proficient</text>
<text class="c bd" x="609.7" y="1879.3">Expert</text>
<text x="247.3" y="1895.7">Untrained</text><text x="247.3" y="1911.7">beginner, no</text><text x="247.3" y="1927.7">experience,</text><text x="247.3" y="1943.7">requires and</text><text x="247.3" y="1959.7">follows</text><text x="247.3" y="1975.7">detailed</text><text x="247.3" y="1991.7">documentatio</text><text x="247.3" y="2007.7">n to be able</text><text x="247.3" y="2023.7">to perform</text><text x="247.3" y="2039.7">the work.</text>
<text x="330.8" y="1895.7">Perform the</text><text x="330.8" y="1911.7">work, with</text><text x="330.8" y="1927.7">limited</text><text x="330.8" y="1943.7">situational</text><text x="330.8" y="1959.7">perception,</text><text x="330.8" y="1975.7">all aspects of</text><text x="330.8" y="1991.7">work treated</text><text x="330.8" y="2007.7">separately</text><text x="330.8" y="2023.7">with equal</text><text x="330.8" y="2039.7">importance.</text>
<text x="412" y="1895.7">Understand</text><text x="412" y="1911.7">the work</text><text x="412" y="1927.7">and can</text><text x="412" y="1943.7">determine</text><text x="412" y="1959.7">priorities to</text><text x="412" y="1975.7">reach goals.</text>
<text x="494.2" y="1895.7">Oversees all</text><text x="494.2" y="1911.7">aspects of</text><text x="494.2" y="1927.7">the work</text><text x="494.2" y="1943.7">and can</text><text x="494.2" y="1959.7">prioritize</text><text x="494.2" y="1975.7">based on</text><text x="494.2" y="1991.7">situational</text><text x="494.2" y="2007.7">aspects.</text>
<text x="575.5" y="1895.7">Intuitive</text><text x="575.5" y="1911.7">understandi</text><text x="575.5" y="1927.7">ng. Experts</text><text x="575.5" y="1943.7">can apply</text><text x="575.5" y="1959.7">experience</text><text x="575.5" y="1975.7">patterns to</text><text x="575.5" y="1991.7">new</text><text x="575.5" y="2007.7">situations.</text>
</g>

<!-- 10 CHANGE MANAGEMENT -->
<g id="change-management">
<rect class="box" x="497.2" y="2041.7" width="165.2" height="285" rx="10" filter="url(#sh)"/>
<circle class="cr" cx="513.5" cy="2056.7" r="7.5"/><text class="n" x="513.5" y="2060.3" style="font-size:9.5px">10</text>
<text class="ti" x="528.5" y="2061.7" textLength="55.6" lengthAdjust="spacingAndGlyphs">CHANGE</text>
<text class="ti" x="528.5" y="2080.7" textLength="100.5" lengthAdjust="spacingAndGlyphs">MANAGEMENT</text>
<rect class="sq" x="504.7" y="2092.5" width="3" height="3"/>
<text x="527.2" y="2098" textLength="129.6" word-spacing="12.1"><tspan class="bd">Content:</tspan> What must</text>
<text x="527.2" y="2114" textLength="129.6" word-spacing="8.5">change in the formal</text>
<text x="527.2" y="2130" textLength="129.6" word-spacing="12.6">organization (structure,</text>
<text x="527.2" y="2146" textLength="129.6" word-spacing="25.4">business processes,</text>
<text x="527.2" y="2162" textLength="129.6" word-spacing="19.7">management system,</text>
<text x="527.2" y="2178">technology, etc</text>
<rect class="sq" x="504.7" y="2188.5" width="3" height="3"/>
<text x="527.2" y="2194" textLength="129.6" word-spacing="33.7"><tspan class="bd">People:</tspan> Emotional</text>
<text x="527.2" y="2210" textLength="129.6" word-spacing="5.7">reactions, learning new</text>
<text x="527.2" y="2226" textLength="129.6" word-spacing="32.4">behavior, changing</text>
<text x="527.2" y="2242" textLength="129.6" word-spacing="63.8">mindset, and</text>
<text x="527.2" y="2258" textLength="129.6" word-spacing="33.1">addressing cultural</text>
<text x="527.2" y="2274">implications.</text>
<rect class="sq" x="504.7" y="2284.5" width="3" height="3"/>
<text x="527.2" y="2290" textLength="129.6" word-spacing="8.9"><tspan class="bd">Process:</tspan> How should</text>
<text x="527.2" y="2307" textLength="129.6" word-spacing="16.2">the organization be</text>
<text x="527.2" y="2323">transformed?</text>
</g>

<g id="change-flow">
<g id="headers" filter="url(#sh)">
<rect class="hb" x="47.9" y="2070" width="64.2" height="28.3"/>
<rect class="hb" x="121.1" y="2070" width="209.7" height="28.3"/>
<rect class="hb" x="338.9" y="2070" width="64.2" height="28.3"/>
<rect class="hb" x="3.4" y="2106.7" width="27.4" height="208.3"/>
</g>
<text class="c bd s11" x="80" y="2087">2. Vision</text>
<text class="c bd s11" x="226" y="2087">3. Capacity for Change</text>
<text class="c bd s11" x="371" y="2080.7">4. First-up</text>
<text class="c bd s11" x="371" y="2094.3">Actions</text>
<text class="c bd s11" transform="translate(21,2210.7) rotate(-90)" textLength="105">1. Presure for Change</text>
<g id="flow-boxes" filter="url(#sh)">
<rect class="fb" x="47.9" y="2106.7" width="64.2" height="27.3"/><rect class="fb" x="121.1" y="2106.7" width="63.8" height="27.3"/><rect class="fb" x="193.8" y="2106.7" width="65.1" height="27.3"/><rect class="fb" x="267.4" y="2106.7" width="64.2" height="27.3"/><rect class="fb" x="340.2" y="2106.7" width="63.3" height="27.3"/>
<rect x="421.5" y="2106.7" width="64.2" height="27.3" fill="url(#gg)" stroke="#7b98c2" stroke-width="1.5"/>
<rect class="fb" x="121.1" y="2141" width="63.8" height="27.3"/><rect class="fb" x="193.8" y="2141" width="65.1" height="27.3"/><rect class="fb" x="267.4" y="2141" width="64.2" height="27.3"/><rect class="fb" x="340.2" y="2141" width="63.3" height="27.3"/><rect class="rb" x="421.5" y="2141" width="64.2" height="27.3"/>
<rect class="fb" x="47.9" y="2179" width="64.2" height="27.3"/><rect class="fb" x="193.8" y="2179" width="65.1" height="27.3"/><rect class="fb" x="267.4" y="2179" width="64.2" height="27.3"/><rect class="fb" x="340.2" y="2179" width="63.3" height="27.3"/><rect class="rb" x="421.5" y="2179" width="64.2" height="27.3"/>
<rect class="fb" x="47.9" y="2215" width="64.2" height="27.3"/><rect class="fb" x="121.1" y="2215" width="63.8" height="27.3"/><rect class="fb" x="267.4" y="2215" width="64.2" height="27.3"/><rect class="fb" x="340.2" y="2215" width="63.3" height="27.3"/><rect class="rb" x="421.5" y="2215" width="64.2" height="27.3"/>
<rect class="fb" x="47.9" y="2252.3" width="64.2" height="27.3"/><rect class="fb" x="121.1" y="2252.3" width="63.8" height="27.3"/><rect class="fb" x="193.8" y="2252.3" width="65.1" height="27.3"/><rect class="fb" x="340.2" y="2252.3" width="63.3" height="27.3"/><rect class="rb" x="421.5" y="2252.3" width="64.2" height="27.3"/>
<rect class="fb" x="47.9" y="2287.7" width="64.2" height="27.3"/><rect class="fb" x="121.1" y="2287.7" width="63.8" height="27.3"/><rect class="fb" x="193.8" y="2287.7" width="65.1" height="27.3"/><rect class="fb" x="267.4" y="2287.7" width="64.2" height="27.3"/><rect class="rb" x="421.5" y="2287.7" width="64.2" height="27.3"/>
</g>
<g id="flow-text">
<text class="c" x="80" y="2124.5">Vision</text><text class="c" x="153" y="2124.5">Skills</text><text class="c" x="226.3" y="2124.5" textLength="51">Incentives</text><text class="c" x="299.5" y="2124.5" textLength="50.5">Resources</text><text class="c" x="371.8" y="2116.5">Action</text><text class="c" x="371.8" y="2130.5">Plan</text><text class="c wh" x="453.6" y="2124.5">Change</text>
<text class="c" x="153" y="2158.9">Skills</text><text class="c" x="226.3" y="2158.9" textLength="51">Incentives</text><text class="c" x="299.5" y="2158.9" textLength="50.5">Resources</text><text class="c" x="371.8" y="2150.9">Action</text><text class="c" x="371.8" y="2164.9">Plan</text><text class="c wh" x="453.6" y="2158.9" textLength="50">Confusion</text>
<text class="c" x="80" y="2196.8">Vision</text><text class="c" x="226.3" y="2196.8" textLength="51">Incentives</text><text class="c" x="299.5" y="2196.8" textLength="50.5">Resources</text><text class="c" x="371.8" y="2188.8">Action</text><text class="c" x="371.8" y="2202.8">Plan</text><text class="c wh" x="453.6" y="2196.8">Anxiety</text>
<text class="c" x="80" y="2232.9">Vision</text><text class="c" x="153" y="2232.9">Skills</text><text class="c" x="299.5" y="2232.9" textLength="50.5">Resources</text><text class="c" x="371.8" y="2224.9">Action</text><text class="c" x="371.8" y="2238.9">Plan</text><text class="c wh" x="453.6" y="2225.7">Gradual</text><text class="c wh" x="453.6" y="2240.7">Change</text>
<text class="c" x="80" y="2270.2">Vision</text><text class="c" x="153" y="2270.2">Skills</text><text class="c" x="226.3" y="2270.2" textLength="51">Incentives</text><text class="c" x="371.8" y="2262.2">Action</text><text class="c" x="371.8" y="2276.2">Plan</text><text class="c wh" x="453.6" y="2262.3">Frustratio</text><text class="c wh" x="453.6" y="2277.3">n</text>
<text class="c" x="80" y="2305.5">Vision</text><text class="c" x="153" y="2305.5">Skills</text><text class="c" x="226.3" y="2305.5" textLength="51">Incentives</text><text class="c" x="299.5" y="2305.5" textLength="50.5">Resources</text><text class="c wh" x="453.6" y="2298.3">False</text><text class="c wh" x="453.6" y="2312.3">Starts</text>
</g>
</g>

<g id="connectors">
<line x1="477" y1="823" x2="399" y2="791" stroke="#1f2d7a" stroke-width="1" marker-end="url(#sa)"/>
<line x1="477" y1="823" x2="556" y2="792" stroke="#1f2d7a" stroke-width="1" marker-end="url(#sa)"/>
<g class="fl">
<line x1="30.8" y1="2120.3" x2="47.9" y2="2120.3" marker-end="url(#fa)"/>
<line x1="112.1" y1="2120.3" x2="121.1" y2="2120.3"/><line x1="184.9" y1="2120.3" x2="193.8" y2="2120.3"/><line x1="258.9" y1="2120.3" x2="267.4" y2="2120.3"/><line x1="331.6" y1="2120.3" x2="340.2" y2="2120.3"/>
<line x1="403.5" y1="2120.3" x2="421.5" y2="2120.3" marker-end="url(#fa)"/>
<line x1="30.8" y1="2154.7" x2="121.1" y2="2154.7" marker-end="url(#fa)"/>
<line x1="184.9" y1="2154.7" x2="193.8" y2="2154.7"/><line x1="258.9" y1="2154.7" x2="267.4" y2="2154.7"/><line x1="331.6" y1="2154.7" x2="340.2" y2="2154.7"/>
<line x1="403.5" y1="2154.7" x2="421.5" y2="2154.7" marker-end="url(#fa)"/>
<line x1="30.8" y1="2192.6" x2="47.9" y2="2192.6" marker-end="url(#fa)"/>
<line x1="112.1" y1="2192.6" x2="193.8" y2="2192.6"/><line x1="258.9" y1="2192.6" x2="267.4" y2="2192.6"/><line x1="331.6" y1="2192.6" x2="340.2" y2="2192.6"/>
<line x1="403.5" y1="2192.6" x2="421.5" y2="2192.6" marker-end="url(#fa)"/>
<line x1="30.8" y1="2228.7" x2="47.9" y2="2228.7" marker-end="url(#fa)"/>
<line x1="112.1" y1="2228.7" x2="121.1" y2="2228.7"/><line x1="184.9" y1="2228.7" x2="267.4" y2="2228.7"/><line x1="331.6" y1="2228.7" x2="340.2" y2="2228.7"/>
<line x1="403.5" y1="2228.7" x2="421.5" y2="2228.7" marker-end="url(#fa)"/>
<line x1="30.8" y1="2266" x2="47.9" y2="2266" marker-end="url(#fa)"/>
<line x1="112.1" y1="2266" x2="121.1" y2="2266"/><line x1="184.9" y1="2266" x2="193.8" y2="2266"/><line x1="258.9" y1="2266" x2="340.2" y2="2266"/>
<line x1="403.5" y1="2266" x2="421.5" y2="2266" marker-end="url(#fa)"/>
<line x1="30.8" y1="2301.3" x2="47.9" y2="2301.3" marker-end="url(#fa)"/>
<line x1="112.1" y1="2301.3" x2="121.1" y2="2301.3"/><line x1="184.9" y1="2301.3" x2="193.8" y2="2301.3"/><line x1="258.9" y1="2301.3" x2="267.4" y2="2301.3"/>
<line x1="331.6" y1="2301.3" x2="421.5" y2="2301.3" marker-end="url(#fa)"/>
</g>
</g>
</svg>
